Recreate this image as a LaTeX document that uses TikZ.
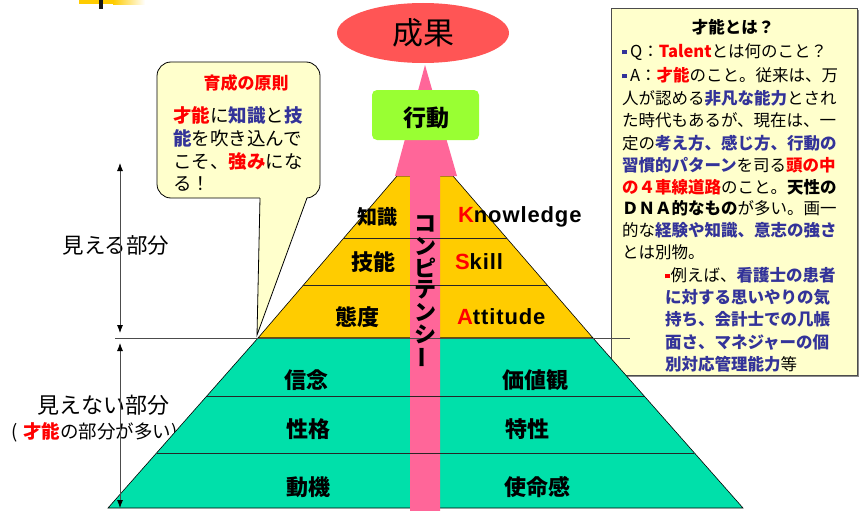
\documentclass[tikz,border=0pt]{standalone}
\usepackage{fontspec}
\setmainfont{Noto Sans CJK JP}
\newfontfamily\latf{Liberation Sans}[LetterSpace=4]
\usetikzlibrary{arrows.meta,shapes.geometric}
\definecolor{tred}{HTML}{FF0000}
\definecolor{tblue}{HTML}{333399}
\definecolor{pyel}{HTML}{FFCC00}
\definecolor{pgrn}{HTML}{00E0AA}
\definecolor{ppink}{HTML}{FF6699}
\definecolor{pell}{HTML}{FF5555}
\definecolor{lgrn}{HTML}{99FF33}
\definecolor{note}{HTML}{FFFFCC}
\newcommand\myfs[1]{\fontsize{#1}{#1}\selectfont}
\newcommand\redb[1]{\textcolor{tred}{\bfseries #1}}
\newcommand\blueb[1]{\textcolor{tblue}{\bfseries #1}}
\newcommand\bbul{\textcolor{tblue}{\rule[3pt]{4.5pt}{4.5pt}}\hspace{3.5pt}}
\newcommand\rbul{\textcolor{tred}{\rule[3pt]{4.5pt}{4.5pt}}\hspace{1pt}}
\begin{document}
\begin{tikzpicture}[x=1pt,y=-1pt,
  txt/.style={inner sep=0pt, outer sep=0pt},
  ltxt/.style={txt, anchor=west},
  notetxt/.style={ltxt, font=\myfs{16.5}},
  pyrlbl/.style={txt, font=\myfs{22}\bfseries},
  englbl/.style={ltxt, font=\myfs{22}\latf\bfseries},
  divline/.style={black!85, line width=0.7pt},
  dblarrow/.style={black!70, line width=0.8pt,
    {Latex[length=8pt,width=6pt,color=black]}-{Latex[length=8pt,width=6pt,color=black]}}]
\useasboundingbox (0,0) rectangle (859,511);

% top-left decoration
\fill[pyel] (79,0) rectangle (113,4);
\shade[left color=pyel,right color=white] (113,0) rectangle (145,5);
\fill[black!90] (99,0) rectangle (103,9);

% left labels
\node[txt, font=\myfs{21.5}] (see) at (116,245) {見える部分};
\node[txt, font=\myfs{22}] (unsee) at (103,405) {見えない部分};
\node[ltxt, font=\myfs{18.5}] (talentpart) at (12,432) {(\hspace{5pt}\redb{才能}の部分が多い)};

% speech bubble
\draw[fill=note, rounded corners=14pt, line width=0.8pt] (157,62) rectangle (320,198);
\fill[note] (260,197) -- (257,335) -- (307,197) -- cycle;
\draw[line width=0.8pt] (260,198) -- (257,335) -- (307,198);
\node[txt, font=\myfs{17}\bfseries, text=tred] (bt) at (246,83) {育成の原則};
\node[ltxt, font=\myfs{18.5}] (b1) at (173,115) {\redb{才能}に\blueb{知識}と\blueb{技}};
\node[ltxt, font=\myfs{18.5}] (b2) at (173,138) {\blueb{能}を吹き込んで};
\node[ltxt, font=\myfs{18.5}] (b3) at (173,161) {こそ、\redb{強み}にな};
\node[ltxt, font=\myfs{18.5}] (b4) at (173,184) {る！};

% right note box
\fill[black!45] (613,10) rectangle (859,377);
\draw[fill=note, draw=black!70, line width=0.8pt] (611,8) rectangle (857,375);
\node[txt, font=\myfs{16.5}\bfseries] (nt) at (733,27) {才能とは？};
\node[notetxt] (n1) at (622,52) {\bbul Q：\redb{Talent}とは何のこと？};
\node[notetxt] (n2) at (622,75) {\bbul A：\redb{才能}のこと。従来は、万};
\node[notetxt] (n3) at (622,98) {人が認める\blueb{非凡な能力}とされ};
\node[notetxt] (n4) at (622,120) {た時代もあるが、現在は、一};
\node[notetxt] (n5) at (622,143) {定の\blueb{考え方、感じ方、行動の}};
\node[notetxt] (n6) at (622,165) {\blueb{習慣的パターン}を司る\redb{頭の中}};
\node[notetxt] (n7) at (622,187) {\redb{の４車線道路}のこと。\textbf{天性の}};
\node[notetxt] (n8) at (622,208) {\textbf{ＤＮＡ的なもの}が多い。画一};
\node[notetxt] (n9) at (622,230) {的な\blueb{経験や知識、意志の強さ}};
\node[notetxt] (n10) at (622,252) {とは別物。};
\node[notetxt] (n11) at (665,275) {\rbul 例えば、\blueb{看護士の患者}};
\node[notetxt] (n12) at (665,297) {\blueb{に対する思いやりの気}};
\node[notetxt] (n13) at (665,319) {\blueb{持ち、会計士での几帳}};
\node[notetxt] (n14) at (665,342) {\blueb{面さ、マネジャーの個}};
\node[notetxt] (n15) at (665,364) {\blueb{別対応管理能力}等};

% pyramid
\draw[fill=pyel, line width=0.6pt] (397,176) -- (453,176) -- (593,338) -- (258,338) -- cycle;
\draw[fill=pgrn, line width=0.6pt] (258,338) -- (593,338) -- (743,508) -- (108,508) -- cycle;

% competency arrow
\fill[ppink] (410,511) -- (410,176) -- (395,176) -- (425,65) -- (457,176) -- (440,176) -- (440,511) -- cycle;

% dividing lines
\draw[divline] (343,238) -- (507,238);
\draw[divline] (303,285) -- (547,285);
\draw[divline] (207,396) -- (644,396);
\draw[divline] (157,453) -- (694,453);
\draw[black!70, line width=0.7pt] (115,338) -- (630,338);

% result and action
\node[ellipse, fill=pell, minimum width=172pt, minimum height=60pt, inner sep=0pt] (result) at (423,33) {};
\node[txt, font=\myfs{31}] (resulttxt) at (423,33) {成果};
\node[fill=lgrn, rounded corners=5pt, minimum width=107pt, minimum height=50pt, inner sep=0pt] (act) at (425.5,115) {};
\node[txt, font=\myfs{23}\bfseries] (acttxt) at (426,118) {行動};

% pyramid labels
\node[pyrlbl, font=\myfs{20}\bfseries] (k1) at (377,217) {知識};
\node[pyrlbl] (k2) at (373,262) {技能};
\node[pyrlbl] (k3) at (357,317) {態度};
\node[englbl] (e1) at (458,217) {\textcolor{tred}{K}nowledge};
\node[englbl] (e2) at (455,262) {\textcolor{tred}{S}kill};
\node[englbl] (e3) at (457,317) {\textcolor{tred}{A}ttitude};
\node[pyrlbl] (g1) at (306,380) {信念};
\node[pyrlbl] (g2) at (535,380) {価値観};
\node[pyrlbl] (g3) at (308,429) {性格};
\node[pyrlbl] (g4) at (527,429) {特性};
\node[pyrlbl] (g5) at (308,487) {動機};
\node[pyrlbl] (g6) at (537,487) {使命感};

% vertical text
\foreach \ch [count=\i] in {コ,ン,ピ,テ,ン,シ}
  \node[txt, font=\myfs{22}\bfseries] (v\i) at (425,{224+22*(\i-1)}) {\ch};
\node[txt, rotate=90, font=\myfs{22}\bfseries] (v7) at (425,357) {ー};

% visible / invisible arrows
\coordinate (a1) at (120,163);
\coordinate (a2) at (120,333);
\coordinate (a3) at (120,343);
\coordinate (a4) at (120,508);
\draw[dblarrow] (a1) -- (a2);
\draw[dblarrow] (a3) -- (a4);
\end{tikzpicture}
\end{document}
